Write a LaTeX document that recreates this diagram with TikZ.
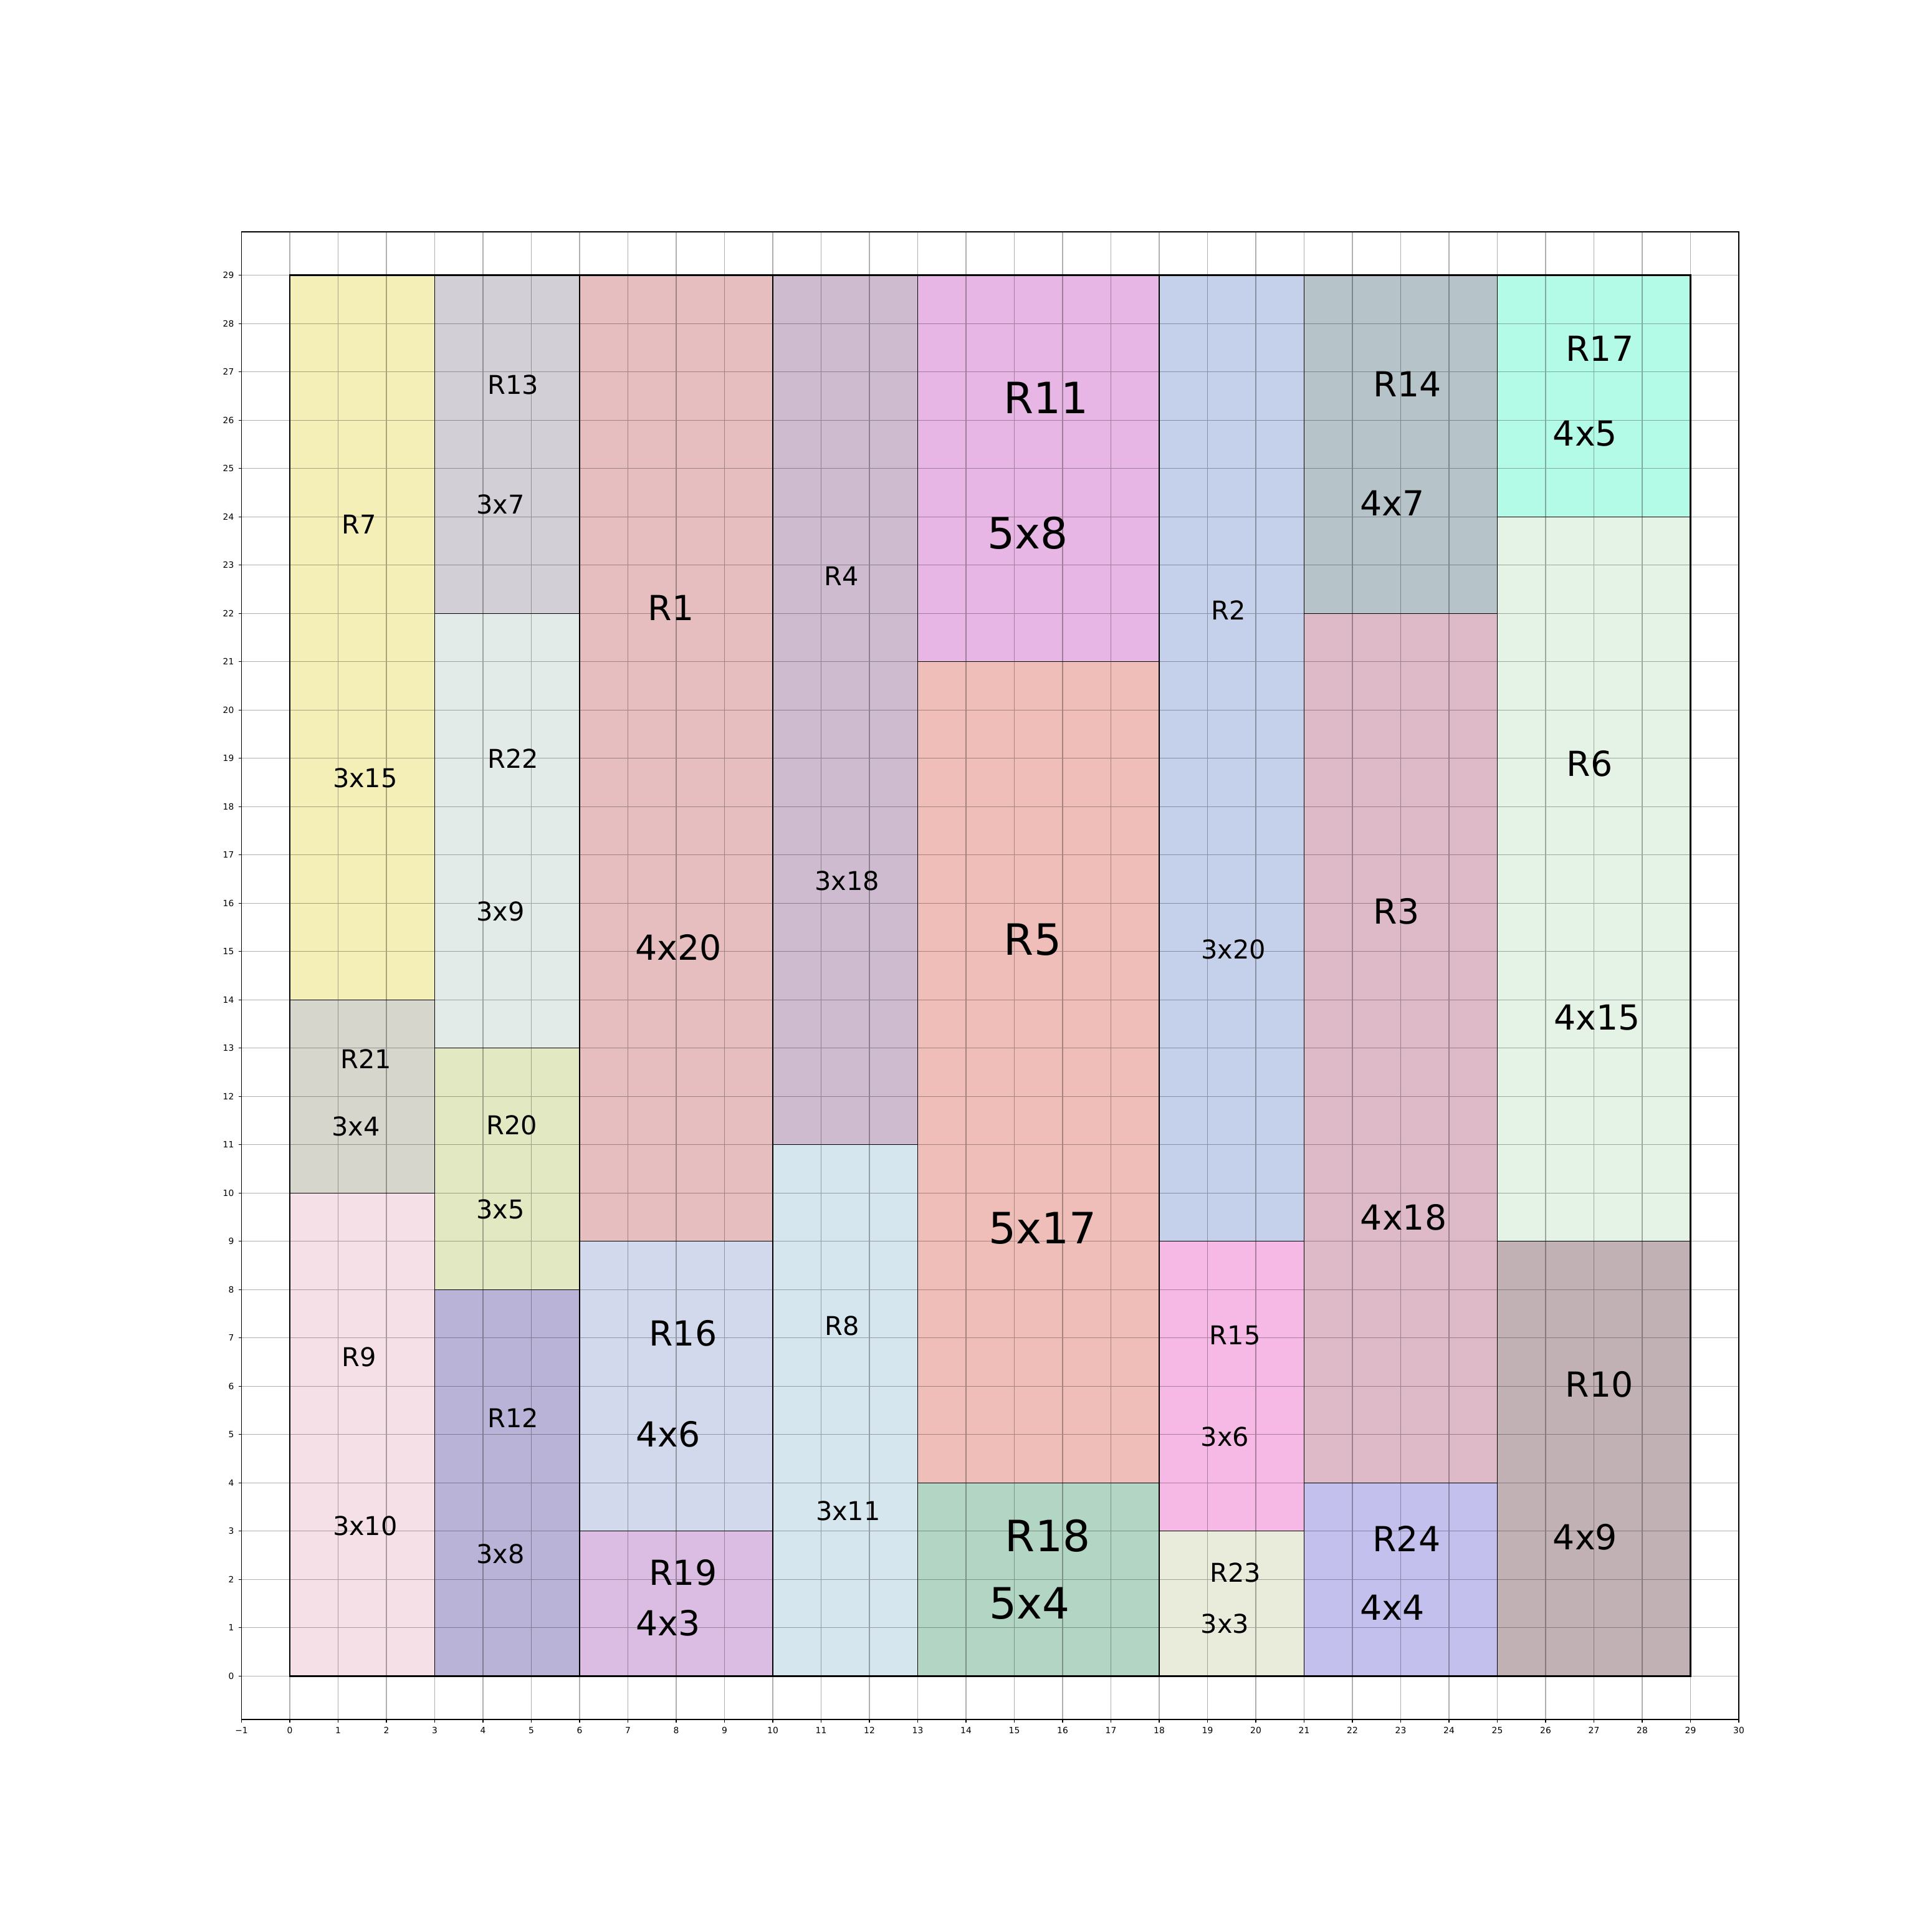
\documentclass[tikz,border=0pt]{standalone}
\usepackage{fontspec}
\setmainfont{DejaVu Sans}
\usepackage{xcolor}
\definecolor{cR1}{HTML}{E6BEBF}
\definecolor{cR2}{HTML}{C5D0EB}
\definecolor{cR3}{HTML}{DEBAC8}
\definecolor{cR4}{HTML}{CEBBD0}
\definecolor{cR5}{HTML}{F0BEB9}
\definecolor{cR6}{HTML}{E5F3E7}
\definecolor{cR7}{HTML}{F3EFB6}
\definecolor{cR8}{HTML}{D6E6EE}
\definecolor{cR9}{HTML}{F6E0E8}
\definecolor{cR10}{HTML}{C2B1B4}
\definecolor{cR11}{HTML}{E7B6E4}
\definecolor{cR12}{HTML}{B8B3D7}
\definecolor{cR13}{HTML}{D2CFD6}
\definecolor{cR14}{HTML}{B6C4CA}
\definecolor{cR15}{HTML}{F6B8E4}
\definecolor{cR16}{HTML}{D2D9EC}
\definecolor{cR17}{HTML}{B3FBE6}
\definecolor{cR18}{HTML}{B3D6C4}
\definecolor{cR19}{HTML}{DBBCE2}
\definecolor{cR20}{HTML}{E2E8C2}
\definecolor{cR21}{HTML}{D7D6CD}
\definecolor{cR22}{HTML}{E2EBE7}
\definecolor{cR23}{HTML}{E9ECDB}
\definecolor{cR24}{HTML}{C3C0EE}
\tikzset{
  blk/.style={draw=black, line width=0.5pt},
  gridln/.style={draw=black, draw opacity=0.31, line width=0.4pt},
  tkln/.style={line width=0.4pt},
  tk/.style={font=\fontsize{5.08}{6}\selectfont, inner sep=0pt},
  lblS/.style={font=\fontsize{15.24}{18}\selectfont, inner sep=0pt},
  lblM/.style={font=\fontsize{20.32}{24}\selectfont, inner sep=0pt},
  lblL/.style={font=\fontsize{25.4}{30}\selectfont, inner sep=0pt},
}

\begin{document}
\begin{tikzpicture}
  \useasboundingbox (-6,-5.3) rectangle (34,34.7);
  % 坐标点定义
  \coordinate (AxLL) at (-1,-0.9);
  \coordinate (AxUR) at (30,29.9);
  \coordinate (O) at (0,0);
  \coordinate (T) at (29,29);

  % 矩形
  \filldraw[blk, fill=cR7]  (0,14) rectangle (3,29);
  \filldraw[blk, fill=cR21] (0,10) rectangle (3,14);
  \filldraw[blk, fill=cR9]  (0,0) rectangle (3,10);
  \filldraw[blk, fill=cR13] (3,22) rectangle (6,29);
  \filldraw[blk, fill=cR22] (3,13) rectangle (6,22);
  \filldraw[blk, fill=cR20] (3,8) rectangle (6,13);
  \filldraw[blk, fill=cR12] (3,0) rectangle (6,8);
  \filldraw[blk, fill=cR1]  (6,9) rectangle (10,29);
  \filldraw[blk, fill=cR16] (6,3) rectangle (10,9);
  \filldraw[blk, fill=cR19] (6,0) rectangle (10,3);
  \filldraw[blk, fill=cR4]  (10,11) rectangle (13,29);
  \filldraw[blk, fill=cR8]  (10,0) rectangle (13,11);
  \filldraw[blk, fill=cR11] (13,21) rectangle (18,29);
  \filldraw[blk, fill=cR5]  (13,4) rectangle (18,21);
  \filldraw[blk, fill=cR18] (13,0) rectangle (18,4);
  \filldraw[blk, fill=cR2]  (18,9) rectangle (21,29);
  \filldraw[blk, fill=cR15] (18,3) rectangle (21,9);
  \filldraw[blk, fill=cR23] (18,0) rectangle (21,3);
  \filldraw[blk, fill=cR14] (21,22) rectangle (25,29);
  \filldraw[blk, fill=cR3]  (21,4) rectangle (25,22);
  \filldraw[blk, fill=cR24] (21,0) rectangle (25,4);
  \filldraw[blk, fill=cR17] (25,24) rectangle (29,29);
  \filldraw[blk, fill=cR6]  (25,9) rectangle (29,24);
  \filldraw[blk, fill=cR10] (25,0) rectangle (29,9);
  \draw[line width=1pt] (O) rectangle (T);

  % 网格与坐标轴
  \draw[gridln, step=1] (AxLL) grid (AxUR);
  \draw[line width=0.4pt] (AxLL) rectangle (AxUR);
  \foreach \i in {-1,...,30}
    \draw[tkln] (\i,-0.9) -- ++(0,-0.063);
  \foreach \j in {0,...,29}
    \draw[tkln] (-1,\j) -- ++(-0.063,0);
  \node[tk, anchor=north] (xtm1) at (-1,-1.05) {−1};
  \foreach \i in {0,...,30}
    \node[tk, anchor=north] (xt\i) at (\i,-1.05) {\i};
  \foreach \j in {0,...,29}
    \node[tk, anchor=east] (yt\j) at (-1.15,\j) {\j};

  % 矩形名称
  \node[lblS] (r7)  at (1.43,23.84) {R7};
  \node[lblS] (r13) at (4.62,26.73) {R13};
  \node[lblM] (r1)  at (7.89,22.11) {R1};
  \node[lblS] (r4)  at (11.42,22.77) {R4};
  \node[lblL] (r11) at (15.66,26.46) {R11};
  \node[lblS] (r2)  at (19.44,22.06) {R2};
  \node[lblM] (r14) at (23.14,26.75) {R14};
  \node[lblM] (r17) at (27.12,27.48) {R17};
  \node[lblS] (r22) at (4.62,18.99) {R22};
  \node[lblS] (r21) at (1.58,12.77) {R21};
  \node[lblS] (r20) at (4.60,11.41) {R20};
  \node[lblS] (r9)  at (1.43,6.61) {R9};
  \node[lblS] (r12) at (4.62,5.34) {R12};
  \node[lblM] (r16) at (8.14,7.10) {R16};
  \node[lblM] (r19) at (8.14,2.14) {R19};
  \node[lblS] (r8)  at (11.43,7.25) {R8};
  \node[lblL] (r5)  at (15.38,15.25) {R5};
  \node[lblL] (r18) at (15.69,2.90) {R18};
  \node[lblS] (r15) at (19.57,7.05) {R15};
  \node[lblS] (r23) at (19.58,2.14) {R23};
  \node[lblM] (r3)  at (22.91,15.83) {R3};
  \node[lblM] (r24) at (23.12,2.84) {R24};
  \node[lblM] (r6)  at (26.91,18.89) {R6};
  \node[lblM] (r10) at (27.11,6.04) {R10};

  % 尺寸标签
  \node[lblS] (d7)  at (1.56,18.59) {3x15};
  \node[lblS] (d13) at (4.36,24.25) {3x7};
  \node[lblM] (d1)  at (8.05,15.08) {4x20};
  \node[lblS] (d4)  at (11.54,16.46) {3x18};
  \node[lblL] (d11) at (15.28,23.66) {5x8};
  \node[lblS] (d2)  at (19.54,15.04) {3x20};
  \node[lblM] (d14) at (22.83,24.28) {4x7};
  \node[lblM] (d17) at (26.82,25.72) {4x5};
  \node[lblS] (d22) at (4.36,15.83) {3x9};
  \node[lblS] (d21) at (1.37,11.38) {3x4};
  \node[lblS] (d20) at (4.36,9.66) {3x5};
  \node[lblS] (d9)  at (1.56,3.11) {3x10};
  \node[lblS] (d12) at (4.36,2.53) {3x8};
  \node[lblM] (d16) at (7.83,5.00) {4x6};
  \node[lblM] (d19) at (7.83,1.10) {4x3};
  \node[lblS] (d8)  at (11.56,3.42) {3x11};
  \node[lblL] (d5)  at (15.59,9.27) {5x17};
  \node[lblL] (d18) at (15.32,1.50) {5x4};
  \node[lblS] (d15) at (19.36,4.95) {3x6};
  \node[lblS] (d23) at (19.36,1.08) {3x3};
  \node[lblM] (d3)  at (23.06,9.50) {4x18};
  \node[lblM] (d24) at (22.83,1.42) {4x4};
  \node[lblM] (d6)  at (27.07,13.63) {4x15};
  \node[lblM] (d10) at (26.82,2.87) {4x9};
\end{tikzpicture}
\end{document}
